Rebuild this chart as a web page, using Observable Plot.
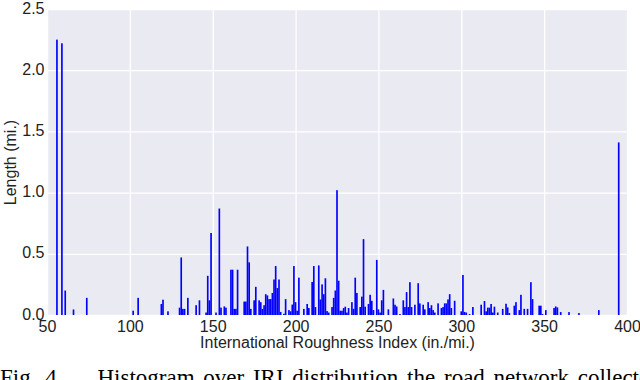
<!DOCTYPE html>
<html>
<head>
<meta charset="utf-8">
<script src="https://cdn.jsdelivr.net/npm/d3@7"></script>
<script src="https://cdn.jsdelivr.net/npm/@observablehq/plot@0.6"></script>
<style>
  html, body { margin: 0; padding: 0; background: #fff; width: 640px; height: 380px; overflow: hidden; }
  #caption { font-family: "Liberation Serif", "Times New Roman", serif; font-size: 23px; line-height: 26px; white-space: nowrap; color: #000; margin: 15px 0 0 0; word-spacing: 3px; }
</style>
</head>
<body>
<div id="chart"></div>
<div id="caption">Fig. 4.&nbsp;&nbsp;&nbsp;&nbsp;Histogram over IRI distribution the road network collected</div>
<script>
const iri = [56,59,61,66,74,102,105,119,120,123,130,131,132,133,135,140,142,146,147,148,149,152,154,155,157,158,161,162,163,164,165,169,170,171,172,173,175,176,178,179,180,181,182,183,184,185,186,187,188,189,190,191,193,194,196,197,198,199,200,201,202,205,207,208,210,211,212,214,215,216,217,218,219,220,222,223,224,225,226,227,228,229,230,231,232,234,235,236,237,239,240,241,242,244,245,246,247,249,250,251,252,253,256,259,260,261,263,265,266,267,268,269,270,272,274,275,277,278,280,281,282,283,284,286,288,289,290,291,292,293,294,296,300,301,302,303,305,307,312,314,315,316,317,318,319,320,322,325,327,328,329,332,333,335,336,338,340,342,343,347,348,349,351,356,357,358,360,365,371,383,395];
const lengthMi = [2.25,2.22,0.20,0.045,0.14,0.035,0.14,0.09,0.125,0.03,0.06,0.47,0.05,0.05,0.14,0.08,0.12,0.02,0.32,0.12,0.67,0.02,0.87,0.06,0.07,0.06,0.37,0.37,0.05,0.05,0.37,0.11,0.11,0.56,0.43,0.05,0.12,0.23,0.12,0.105,0.05,0.08,0.17,0.16,0.13,0.13,0.18,0.29,0.40,0.22,0.29,0.025,0.01,0.13,0.04,0.03,0.085,0.40,0.105,0.035,0.305,0.05,0.09,0.057,0.27,0.40,0.065,0.405,0.127,0.25,0.17,0.30,0.032,0.02,0.065,0.14,0.20,1.02,0.28,0.035,0.035,0.057,0.068,0.02,0.057,0.105,0.05,0.305,0.18,0.065,0.15,0.62,0.068,0.09,0.165,0.116,0.04,0.45,0.046,0.02,0.12,0.205,0.046,0.135,0.084,0.07,0.008,0.12,0.065,0.187,0.065,0.268,0.065,0.084,0.26,0.095,0.084,0.046,0.105,0.057,0.08,0.04,0.02,0.095,0.057,0.065,0.095,0.095,0.127,0.17,0.057,0.116,0.03,0.327,0.025,0.02,0.008,0.065,0.084,0.114,0.03,0.06,0.06,0.09,0.02,0.068,0.02,0.05,0.092,0.062,0.016,0.076,0.105,0.04,0.165,0.05,0.05,0.268,0.13,0.076,0.076,0.008,0.04,0.057,0.07,0.062,0.024,0.024,0.016,0.04,1.41];
const xTicks = [50,100,150,200,250,300,350,400];
const yTicks = [0,0.5,1,1.5,2,2.5];
const xLabel = "International Roughness Index (in./mi.)";
const yLabel = "Length (mi.)";

const data = iri.map((x, i) => ({x, len: lengthMi[i]}));

const chart = Plot.plot({
  width: 640,
  height: 350,
  marginLeft: 47,
  marginRight: 13,
  marginTop: 9,
  marginBottom: 35,
  style: {fontFamily: "'Liberation Sans', Arial, sans-serif", fontSize: "16px", color: "#222", background: "transparent", overflow: "visible"},
  x: {domain: [50, 400]},
  y: {domain: [0, 2.5]},
  marks: [
    Plot.frame({fill: "#EAEAF2", stroke: null}),
    Plot.gridX(xTicks, {stroke: "#fff", strokeOpacity: 1, strokeWidth: 1.3}),
    Plot.gridY(yTicks, {stroke: "#fff", strokeOpacity: 1, strokeWidth: 1.3}),
    Plot.rectY(data, {x1: d => d.x - 0.5, x2: d => d.x + 0.5, y1: 0, y2: "len", fill: "#0000ff"}),
    Plot.axisX(xTicks, {tickSize: 0, tickPadding: 5, tickFormat: d => String(d), label: xLabel, labelAnchor: "center", labelArrow: "none", labelOffset: 32, fontSize: 16}),
    Plot.axisY(yTicks, {tickSize: 0, tickPadding: 3, dy: -1, tickFormat: d3.format(".1f"), label: yLabel, labelAnchor: "center", labelArrow: "none", labelOffset: 43, fontSize: 16})
  ]
});
document.getElementById("chart").appendChild(chart);
</script>
</body>
</html>
